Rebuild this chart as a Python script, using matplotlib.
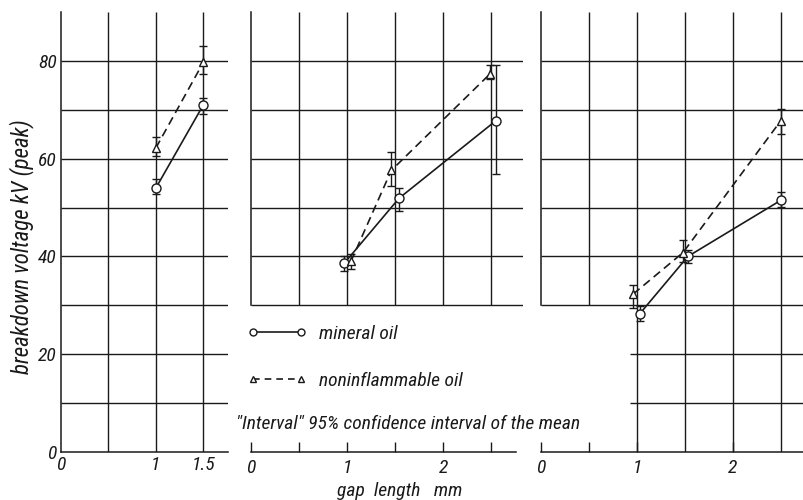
import matplotlib
matplotlib.use("Agg")
import matplotlib.pyplot as plt
from matplotlib.lines import Line2D
import numpy as np

plt.rcParams["font.family"] = ["Roboto Condensed", "Liberation Sans Narrow", "DejaVu Sans"]
plt.rcParams["font.style"] = "italic"

INK = "#1a1a1a"

# panel 1 (left)
p1_gap_min = [1.0, 1.5]
p1_min = [54.0, 71.0]
p1_min_lo = [52.7, 69.1]
p1_min_hi = [55.8, 72.5]
p1_gap_non = [1.0, 1.5]
p1_non = [62.2, 79.7]
p1_non_lo = [60.5, 77.3]
p1_non_hi = [64.4, 83.1]

# panel 2 (middle)
p2_gap_min = [0.97, 1.54, 2.55]
p2_min = [38.6, 51.9, 67.8]
p2_min_lo = [37.0, 49.2, 56.9]
p2_min_hi = [40.0, 54.1, 79.1]
p2_gap_non = [1.04, 1.46, 2.49]
p2_non = [39.0, 57.6, 77.4]
p2_non_lo = [37.4, 54.4, 76.2]
p2_non_hi = [40.6, 61.3, 79.1]

# panel 3 (right)
p3_gap_min = [1.03, 1.53, 2.5]
p3_min = [28.3, 40.0, 51.5]
p3_min_lo = [26.7, 38.7, 50.1]
p3_min_hi = [29.8, 41.4, 53.1]
p3_gap_non = [0.96, 1.48, 2.5]
p3_non = [32.3, 40.8, 67.8]
p3_non_lo = [29.5, 38.8, 65.0]
p3_non_hi = [34.2, 43.3, 70.2]

y_ticks = [0, 20, 40, 60, 80]
y_top = 90

W, H = 804, 500
fig = plt.figure(figsize=(W / 100, H / 100), dpi=100)
bottom, height = 48 / H, 440 / H
ax1 = fig.add_axes([61 / W, bottom, (228 - 61) / W, height])
ax2 = fig.add_axes([251 / W, bottom, (523 - 251) / W, height])
ax3 = fig.add_axes([541 / W, bottom, (804 - 541) / W, height])

ax1.set_xlim(0, 1.76)
ax2.set_xlim(0, 2.83)
ax3.set_xlim(0, 2.74)

for ax in (ax1, ax2, ax3):
    ax.set_ylim(0, y_top)
    ax.patch.set_alpha(0)
    for s in ("top", "right"):
        ax.spines[s].set_visible(False)
    for s in ("left", "bottom"):
        ax.spines[s].set_color(INK)
        ax.spines[s].set_linewidth(1.1)
    ax.tick_params(which="both", colors=INK, labelsize=14, length=0, pad=3)

grid_kw = dict(colors=INK, linewidth=1.0, zorder=1)

# panel 1 grid: full
ax1.hlines(np.arange(10, 90, 10), 0, 1.76, **grid_kw)
ax1.vlines([0.5, 1.0, 1.5], 0, y_top, **grid_kw)
ax1.set_xticks([0, 1, 1.5], ["0", "1", "1.5"])
ax1.set_yticks(y_ticks, [str(v) for v in y_ticks])

# panel 2 grid: box from 30 up, separate gap axis at 0
ax2.hlines(np.arange(30, 90, 10), 0, 2.83, **grid_kw)
ax2.vlines([0.5, 1.0, 1.5, 2.0, 2.5], 30, y_top, **grid_kw)
ax2.spines["left"].set_bounds(30, y_top)
ax2.spines["bottom"].set_bounds(0, 2.76)
ax2.set_yticks([])
ax2.set_xticks([0, 1, 2], ["0", "1", "2"])
ax2.set_xticks([0.5, 1.5, 2.5], minor=True)
ax2.tick_params(axis="x", which="both", direction="in", length=7, width=1.0, pad=5)

# panel 3 grid
ax3.hlines(np.arange(30, 90, 10), 0, 2.74, **grid_kw)
ax3.hlines([10, 20], 0.93, 2.74, **grid_kw)
ax3.vlines([0.5], 30, y_top, **grid_kw)
ax3.vlines([1.0, 1.5, 2.0, 2.5], 0, y_top, **grid_kw)
ax3.spines["left"].set_bounds(30, y_top)
ax3.set_yticks([])
ax3.set_xticks([0, 1, 2], ["0", "1", "2"])
ax3.set_xticks([0.5], minor=True)
ax3.tick_params(axis="x", which="both", direction="in", length=7, width=1.0, pad=5)


def draw(ax, x, y, lo, hi, marker, ls, ms):
    y = np.asarray(y)
    err = [y - np.asarray(lo), np.asarray(hi) - y]
    ax.errorbar(x, y, yerr=err, fmt="none", ecolor=INK, elinewidth=1.0,
                capsize=3, capthick=1.0, zorder=3)
    ax.plot(x, y, color=INK, lw=1.2, ls=ls, dashes=(5, 3) if ls == "--" else (None, None),
            marker=marker, ms=ms, mfc="white", mec=INK, mew=1.0, zorder=4, clip_on=False)


for ax, series in (
    (ax1, [(p1_gap_min, p1_min, p1_min_lo, p1_min_hi), (p1_gap_non, p1_non, p1_non_lo, p1_non_hi)]),
    (ax2, [(p2_gap_min, p2_min, p2_min_lo, p2_min_hi), (p2_gap_non, p2_non, p2_non_lo, p2_non_hi)]),
    (ax3, [(p3_gap_min, p3_min, p3_min_lo, p3_min_hi), (p3_gap_non, p3_non, p3_non_lo, p3_non_hi)]),
):
    (xm, ym, lm, hm), (xn, yn, ln, hn) = series
    draw(ax, xm, ym, lm, hm, "o", "-", 6.5)
    draw(ax, xn, yn, ln, hn, "^", "--", 5.5)

ax1.set_ylabel("breakdown voltage kV (peak)", fontsize=16.5, color=INK)
ax1.yaxis.set_label_coords(-27 / (228 - 61), (452 - 247) / 440)

handles = [
    Line2D([], [], color=INK, lw=1.2, marker="o", ms=5, mfc="white", mec=INK),
    Line2D([], [], color=INK, lw=1.2, ls="--", dashes=(4, 3), marker="^", ms=4.5,
           mfc="white", mec=INK),
]
fig.legend(handles, ["mineral oil", "noninflammable oil"], loc="upper left",
           bbox_to_anchor=(247 / W, 1 - 325 / H), frameon=False, fontsize=14,
           numpoints=2, handlelength=3.1, handletextpad=0.6, labelspacing=1.5,
           borderpad=0, borderaxespad=0, labelcolor=INK)

fig.text(236 / W, 1 - 424 / H, '"Interval" 95% confidence interval of the mean',
         fontsize=14, color=INK, va="center", ha="left")
fig.text(400 / W, 1 - 491 / H, "gap  length   mm", fontsize=14, color=INK,
         va="center", ha="center")

fig.savefig("out.png", dpi=100, facecolor="white")
